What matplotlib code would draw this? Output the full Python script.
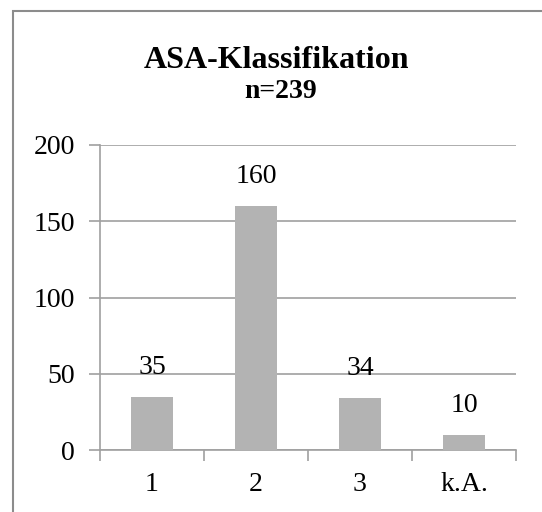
import matplotlib
matplotlib.use('Agg')
from matplotlib import pyplot as plt
from matplotlib.patches import Rectangle

categories = ['1', '2', '3', 'k.A.']
counts = [35, 160, 34, 10]
y_ticks = [0, 50, 100, 150, 200]

plt.rcParams['font.family'] = ['Liberation Serif', 'DejaVu Serif']

fig = plt.figure(figsize=(5.42, 5.12), dpi=100)
fig.patch.set_facecolor('white')

# outer chart border (right/bottom edges fall outside the picture)
fig.patches.append(Rectangle((13 / 542, -0.05), 1.1, 1 - 11 / 512 + 0.05,
                             transform=fig.transFigure, fill=False,
                             edgecolor='#8c8c8c', linewidth=1.5))

ax = fig.add_axes([100 / 542, 1 - 450 / 512, 416 / 542, 305 / 512])
x = range(len(categories))
ax.bar(x, counts, width=0.40, color='#b3b3b3', zorder=3)
for i, v in enumerate(counts):
    ax.annotate(str(v), (i, v), xytext=(0, 21), textcoords='offset points',
                ha='center', va='center', fontsize=20)

ax.set_xlim(-0.5, len(categories) - 0.5)
ax.set_ylim(0, 200)
ax.set_yticks(y_ticks)
ax.set_xticks(x)
ax.set_xticklabels(categories)
ax.set_xticks([i - 0.5 for i in range(len(categories) + 1)], minor=True)
ax.tick_params(axis='x', which='major', length=0, pad=16, labelsize=20)
ax.tick_params(axis='x', which='minor', length=8, color='#a0a0a0', width=1.2)
ax.tick_params(axis='y', length=8, color='#a0a0a0', width=1.2, pad=10, labelsize=20)
ax.grid(axis='y', color='#a0a0a0', linewidth=1.2, zorder=0)
for side in ['top', 'right']:
    ax.spines[side].set_visible(False)
for side in ['left', 'bottom']:
    ax.spines[side].set_color('#a0a0a0')
    ax.spines[side].set_linewidth(1.2)

fig.text(276 / 542, 1 - 60 / 512, 'ASA-Klassifikation', ha='center', va='center',
         fontsize=23, fontweight='bold')
fig.text(281 / 542, 1 - 92 / 512, 'n=239', ha='center', va='center',
         fontsize=20, fontweight='bold')

fig.savefig('out.png', dpi=100)
